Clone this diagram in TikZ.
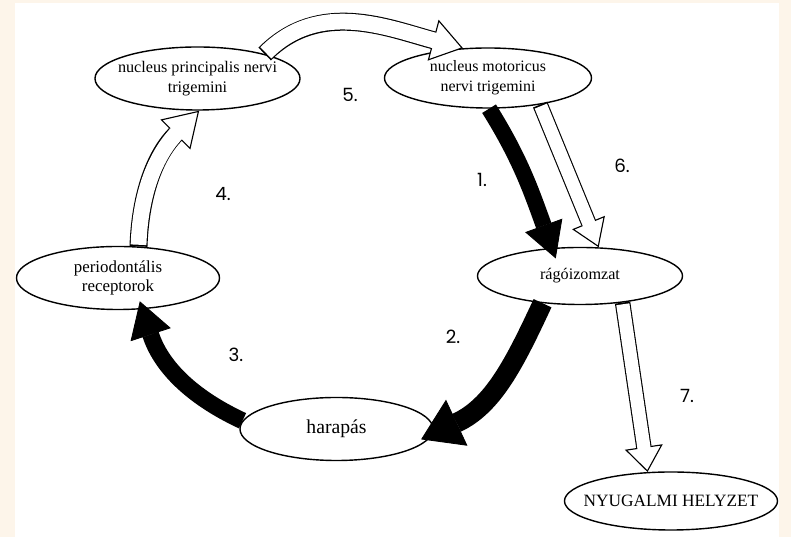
\documentclass[tikz,border=0pt]{standalone}
\usepackage{fontspec}
\setmainfont{Liberation Serif}
\newfontfamily\numfont{Poppins}
\usetikzlibrary{arrows.meta,shapes.geometric}
\definecolor{paper}{RGB}{253,245,234}

\begin{document}
\begin{tikzpicture}[x=0.025cm,y=0.025cm,
    state/.style={draw,ellipse,fill=white,line width=1pt,inner xsep=-15pt,inner ysep=0pt,align=center,font=\fontsize{11.5}{14}\selectfont},
    num/.style={font=\numfont\fontsize{13}{13}\selectfont},
    hollow/.style n args={3}{line width=#1,-{Triangle[width=#2,length=#3,fill=white,line width=0.8pt]},
      postaction={draw=white,line width=#1-1.6pt,arrows=-,shorten <=1.2pt,shorten >=#3-3pt}},
    full/.style n args={3}{line width=#1,-{Triangle[width=#2,length=#3,line width=0.6pt]}}]

        \useasboundingbox (0,0) rectangle (791,537);
        \fill[paper] (0,0) rectangle (791,537);
        \fill[white] (15,0) rectangle (779,534);

        \coordinate (A) at (197.5,458.5);
        \coordinate (B) at (488,459);
        \coordinate (C) at (580,261);
        \coordinate (D) at (118,259);
        \coordinate (E) at (336.5,108);
        \coordinate (F) at (671,36);
        \node[state,minimum width=5.125cm,minimum height=1.575cm] (QA) at (A) {nucleus principalis nervi\\trigemini};
        \node[state,minimum width=5.175cm,minimum height=1.5cm,font=\fontsize{11.3}{14}\selectfont] (QB) at (B) {nucleus motoricus\\nervi trigemini};
        \node[state,minimum width=5.125cm,minimum height=1.425cm] (QC) at (C) {rágóizomzat};
        \node[state,minimum width=5.075cm,minimum height=1.575cm,font=\fontsize{12}{14}\selectfont] (QD) at (D) {periodontális\\receptorok};
        \node[state,minimum width=4.825cm,minimum height=1.575cm,font=\fontsize{14}{16}\selectfont] (QE) at (E) {harapás};
        \node[state,minimum width=5.325cm,minimum height=1.45cm,font=\fontsize{12.3}{14}\selectfont] (QF) at (F) {NYUGALMI HELYZET};

        \draw[hollow={12.8pt}{30pt}{22pt}] (QA.20) to[out=45,in=165] (QB.130);
        \draw[hollow={12.8pt}{30pt}{24pt}] (QD.57) to[out=88,in=225] (QA.-87);
        \draw[hollow={11pt}{25pt}{19pt}] (QB.-27) -- (QC.57);
        \draw[hollow={11pt}{27pt}{18pt}] (QC.-32) -- (QF.129);
        \draw[full={11.5pt}{28pt}{25pt},shorten >=-8pt] (QB.-88) to[out=-58,in=110] (QC.135);
        \draw[full={14pt}{36pt}{28pt},shorten >=-9pt] (QC.216) to[out=245,in=25] (QE.-3);
        \draw[full={12pt}{30pt}{25pt},shorten >=-6pt] (QE.175) to[out=155,in=-72] (QD.-52);

        \node[num] (L1) at (482,357) {1.};
        \node[num] (L2) at (453,200) {2.};
        \node[num] (L3) at (236,182) {3.};
        \node[num] (L4) at (223,343) {4.};
        \node[num] (L5) at (350,442) {5.};
        \node[num] (L6) at (622,371) {6.};
        \node[num] (L7) at (687,141) {7.};
\end{tikzpicture}
\end{document}
